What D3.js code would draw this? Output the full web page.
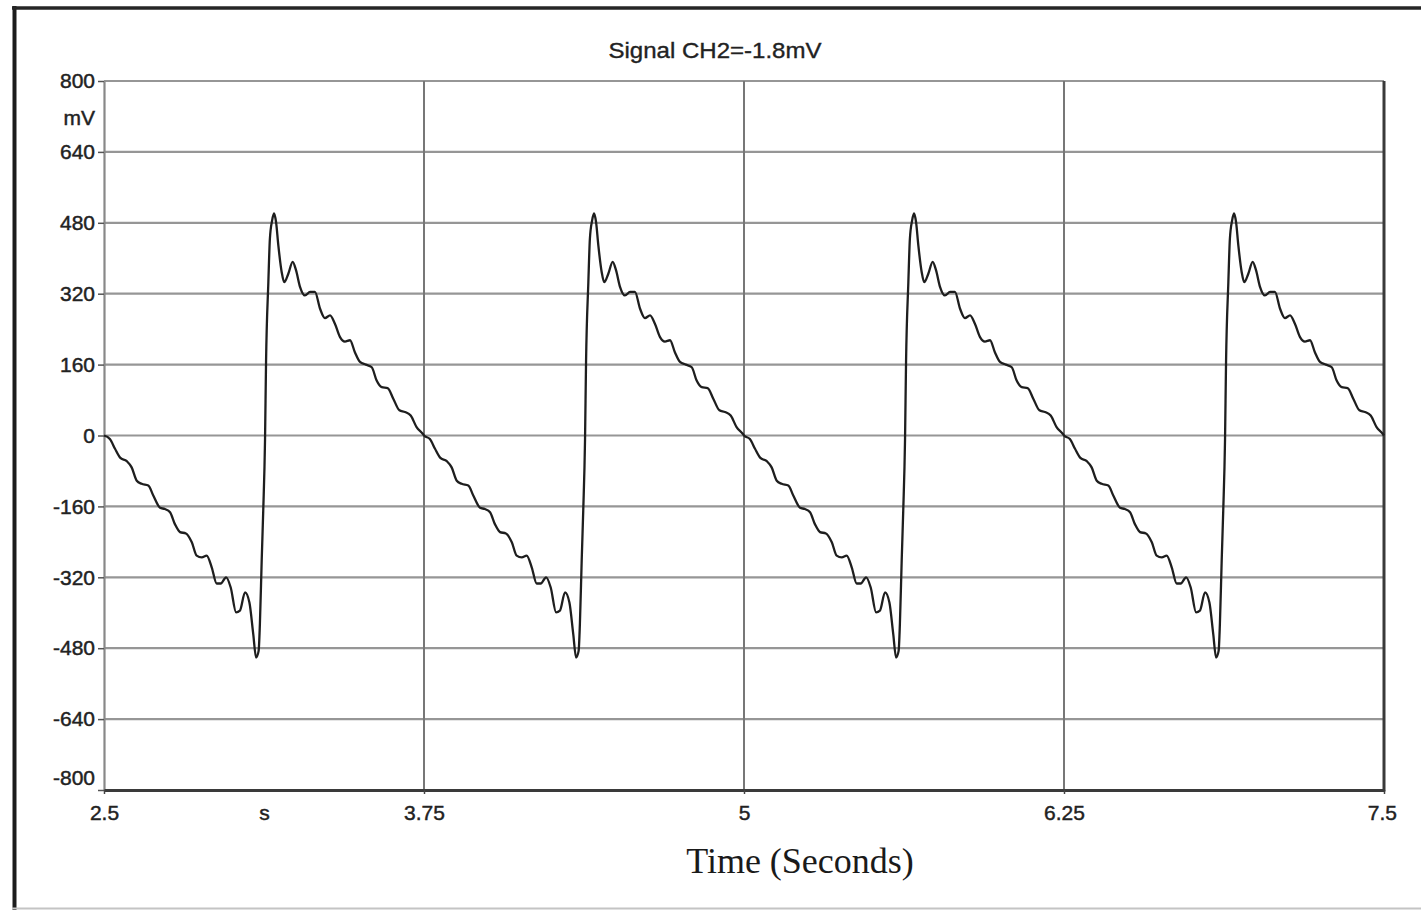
<!DOCTYPE html>
<html>
<head>
<meta charset="utf-8">
<script src="https://cdn.jsdelivr.net/npm/d3@7"></script>
<style>
    html, body { margin: 0; padding: 0; background: #fff; }
    svg { display: block; }
    .axis .tick text, .unit { font-family: "Liberation Sans", Arial, sans-serif; font-size: 21px; fill: #222; stroke: #222; stroke-width: 0.45px; }
</style>
</head>
<body>
<svg id="svg" width="1421" height="910"></svg>
<script>

// tick values / labels
var yTicks = [800, 640, 480, 320, 160, 0, -160, -320, -480, -640, -800];
var yTickLabels = ['800', '640', '480', '320', '160', '0', '-160', '-320', '-480', '-640', '-800'];
var xTicks = [2.5, 3.125, 3.75, 5, 6.25, 7.5];
var xTickLabels = ['2.5', 's', '3.75', '5', '6.25', '7.5'];
var xGrid = [3.75, 5, 6.25];

// signal (seconds, mV)
var timeSec = [
    2.500, 2.523, 2.543, 2.563, 2.589, 2.608, 2.628, 2.647, 2.673, 2.693, 2.719, 2.738, 2.758, 2.777, 2.797, 2.820, 2.843, 2.862, 2.882, 2.901,
    2.921, 2.940, 2.956, 2.977, 2.995, 3.016, 3.031, 3.051, 3.068, 3.083, 3.094, 3.104, 3.109, 3.116, 3.122, 3.129, 3.133, 3.142, 3.148, 3.157,
    3.164, 3.172, 3.181, 3.194, 3.204, 3.220, 3.237, 3.250, 3.266, 3.285, 3.305, 3.324, 3.344, 3.363, 3.383, 3.402, 3.422, 3.441, 3.461, 3.480,
    3.500, 3.523, 3.546, 3.565, 3.585, 3.608, 3.630, 3.654, 3.676, 3.698, 3.721, 3.745,

    3.750, 3.773, 3.793, 3.813, 3.839, 3.858, 3.878, 3.897, 3.923, 3.943, 3.969, 3.988, 4.008, 4.027, 4.047, 4.070, 4.093, 4.112, 4.132, 4.151,
    4.171, 4.190, 4.206, 4.227, 4.245, 4.266, 4.281, 4.301, 4.318, 4.333, 4.344, 4.354, 4.359, 4.366, 4.372, 4.379, 4.383, 4.392, 4.398, 4.407,
    4.414, 4.422, 4.431, 4.444, 4.454, 4.470, 4.487, 4.500, 4.516, 4.535, 4.555, 4.574, 4.594, 4.613, 4.633, 4.652, 4.672, 4.691, 4.711, 4.730,
    4.750, 4.773, 4.796, 4.815, 4.835, 4.858, 4.880, 4.904, 4.926, 4.948, 4.971, 4.995,

    5.000, 5.023, 5.043, 5.063, 5.089, 5.108, 5.128, 5.147, 5.173, 5.193, 5.219, 5.238, 5.258, 5.277, 5.297, 5.320, 5.343, 5.362, 5.382, 5.401,
    5.421, 5.440, 5.456, 5.477, 5.495, 5.516, 5.531, 5.551, 5.568, 5.583, 5.594, 5.604, 5.609, 5.616, 5.622, 5.629, 5.633, 5.642, 5.648, 5.657,
    5.664, 5.672, 5.681, 5.694, 5.704, 5.720, 5.737, 5.750, 5.766, 5.785, 5.805, 5.824, 5.844, 5.863, 5.883, 5.902, 5.922, 5.941, 5.961, 5.980,
    6.000, 6.023, 6.046, 6.065, 6.085, 6.108, 6.130, 6.154, 6.176, 6.198, 6.221, 6.245,

    6.250, 6.273, 6.293, 6.313, 6.339, 6.358, 6.378, 6.397, 6.423, 6.443, 6.469, 6.488, 6.508, 6.527, 6.547, 6.570, 6.593, 6.612, 6.632, 6.651,
    6.671, 6.690, 6.706, 6.727, 6.745, 6.766, 6.781, 6.801, 6.818, 6.833, 6.844, 6.854, 6.859, 6.866, 6.872, 6.879, 6.883, 6.892, 6.898, 6.907,
    6.914, 6.922, 6.931, 6.944, 6.954, 6.970, 6.987, 7.000, 7.016, 7.035, 7.055, 7.074, 7.094, 7.113, 7.133, 7.152, 7.172, 7.191, 7.211, 7.230,
    7.250, 7.273, 7.296, 7.315, 7.335, 7.358, 7.380, 7.404, 7.426, 7.448, 7.471, 7.495,
    7.500
];

var signalMv = [
    0, -8, -30, -50, -58, -72, -102, -109, -113, -136, -163, -166, -173, -200, -218, -221, -241, -271, -275, -271,
    -298, -334, -334, -320, -343, -399, -395, -354, -377, -448, -501, -486, -425, -282, -170, -10, 166, 346, 444, 486,
    501, 482, 429, 369, 346, 365, 392, 373, 335, 316, 324, 324, 286, 265, 271, 252, 222, 212, 215, 188,
    166, 160, 154, 124, 109, 107, 83, 57, 53, 45, 19, 4,

    0, -8, -30, -50, -58, -72, -102, -109, -113, -136, -163, -166, -173, -200, -218, -221, -241, -271, -275, -271,
    -298, -334, -334, -320, -343, -399, -395, -354, -377, -448, -501, -486, -425, -282, -170, -10, 166, 346, 444, 486,
    501, 482, 429, 369, 346, 365, 392, 373, 335, 316, 324, 324, 286, 265, 271, 252, 222, 212, 215, 188,
    166, 160, 154, 124, 109, 107, 83, 57, 53, 45, 19, 4,

    0, -8, -30, -50, -58, -72, -102, -109, -113, -136, -163, -166, -173, -200, -218, -221, -241, -271, -275, -271,
    -298, -334, -334, -320, -343, -399, -395, -354, -377, -448, -501, -486, -425, -282, -170, -10, 166, 346, 444, 486,
    501, 482, 429, 369, 346, 365, 392, 373, 335, 316, 324, 324, 286, 265, 271, 252, 222, 212, 215, 188,
    166, 160, 154, 124, 109, 107, 83, 57, 53, 45, 19, 4,

    0, -8, -30, -50, -58, -72, -102, -109, -113, -136, -163, -166, -173, -200, -218, -221, -241, -271, -275, -271,
    -298, -334, -334, -320, -343, -399, -395, -354, -377, -448, -501, -486, -425, -282, -170, -10, 166, 346, 444, 486,
    501, 482, 429, 369, 346, 365, 392, 373, 335, 316, 324, 324, 286, 265, 271, 252, 222, 212, 215, 188,
    166, 160, 154, 124, 109, 107, 83, 57, 53, 45, 19, 4,
    0
];

var plot = {left: 104, right: 1384, top: 81, bottom: 790};

var $svg = d3.select('#svg');

var x = d3.scaleLinear().domain([2.5, 7.5]).range([plot.left, plot.right]),
    y = d3.scaleLinear().domain([-800, 800]).range([plot.bottom, plot.top]);

// page frame
$svg.append('rect')
    .attr('width', 1421)
    .attr('height', 910)
    .attr('fill', '#fff');

$svg.append('line')
    .attr('x1', 14.5).attr('x2', 14.5)
    .attr('y1', 6).attr('y2', 910)
    .attr('stroke', '#1c1c1c')
    .attr('stroke-width', 4);

$svg.append('line')
    .attr('x1', 12).attr('x2', 1421)
    .attr('y1', 8).attr('y2', 8)
    .attr('stroke', '#262626')
    .attr('stroke-width', 3.5);

$svg.append('line')
    .attr('x1', 12).attr('x2', 1421)
    .attr('y1', 908.5).attr('y2', 908.5)
    .attr('stroke', '#c4c4c4')
    .attr('stroke-width', 2);

// grid
var $grid = $svg.append('g').classed('grid', true);

$grid.selectAll('line.h')
    .data(yTicks)
    .enter()
    .append('line')
    .attr('class', 'h')
    .attr('x1', plot.left)
    .attr('x2', plot.right)
    .attr('y1', function (d) { return y(d); })
    .attr('y2', function (d) { return y(d); })
    .attr('stroke', '#969696')
    .attr('stroke-width', 2.2);

$grid.selectAll('line.v')
    .data(xGrid)
    .enter()
    .append('line')
    .attr('class', 'v')
    .attr('x1', function (d) { return x(d); })
    .attr('x2', function (d) { return x(d); })
    .attr('y1', plot.top)
    .attr('y2', plot.bottom)
    .attr('stroke', '#777')
    .attr('stroke-width', 2);

// axes
var $yAxis = $svg.append('g')
    .attr('class', 'axis y-axis')
    .attr('transform', 'translate(' + plot.left + ',0)')
    .call(d3.axisLeft(y)
        .tickValues(yTicks)
        .tickFormat(function (d, i) { return yTickLabels[i]; })
        .tickSize(6)
        .tickPadding(3)
        .tickSizeOuter(0));

$yAxis.select('.domain').attr('stroke', '#888').attr('stroke-width', 2.2);
$yAxis.selectAll('.tick line').attr('stroke', '#555').attr('stroke-width', 1.5);
$yAxis.selectAll('.tick text')
    .filter(function (d) { return d === -800; })
    .attr('dy', '-0.28em');

$yAxis.append('text')
    .attr('class', 'unit')
    .attr('x', -9)
    .attr('y', 118)
    .attr('dy', '0.32em')
    .attr('text-anchor', 'end')
    .text('mV');

var $xAxis = $svg.append('g')
    .attr('class', 'axis x-axis')
    .attr('transform', 'translate(0,' + plot.bottom + ')')
    .call(d3.axisBottom(x)
        .tickValues(xTicks)
        .tickFormat(function (d, i) { return xTickLabels[i]; })
        .tickSize(4)
        .tickPadding(11)
        .tickSizeOuter(0));

$xAxis.select('.domain').attr('stroke', '#3a3a3a').attr('stroke-width', 3);
$xAxis.selectAll('.tick line').attr('stroke', '#444').attr('stroke-width', 1.5)
    .filter(function (d) { return d === 3.125; })
    .remove();
$xAxis.selectAll('.tick text')
    .filter(function (d) { return d === 7.5; })
    .attr('dx', '-0.1em');

// right frame of the plot
$svg.append('line')
    .attr('x1', plot.right).attr('x2', plot.right)
    .attr('y1', plot.top).attr('y2', plot.bottom + 1.5)
    .attr('stroke', '#3a3a3a')
    .attr('stroke-width', 3);

// signal
var points = timeSec.map(function (t, i) { return [t, signalMv[i]]; });

var line = d3.line()
    .x(function (d) { return x(d[0]); })
    .y(function (d) { return y(d[1]); })
    .curve(d3.curveMonotoneX);

$svg.append('path')
    .datum(points)
    .attr('d', line)
    .attr('fill', 'none')
    .attr('stroke', '#1e1e1e')
    .attr('stroke-width', 2.3)
    .attr('stroke-linejoin', 'round');

// titles
$svg.append('text')
    .attr('x', 715)
    .attr('y', 58)
    .attr('text-anchor', 'middle')
    .attr('textLength', 213)
    .attr('lengthAdjust', 'spacingAndGlyphs')
    .style('font-family', '"Liberation Sans", Arial, sans-serif')
    .style('font-size', '22px')
    .attr('fill', '#222')
    .attr('stroke', '#222')
    .attr('stroke-width', 0.35)
    .text('Signal CH2=-1.8mV');

$svg.append('text')
    .attr('x', 800)
    .attr('y', 873)
    .attr('text-anchor', 'middle')
    .style('font-family', '"Liberation Serif", "Times New Roman", serif')
    .style('font-size', '36px')
    .attr('fill', '#1a1a1a')
    .text('Time (Seconds)');

</script>
</body>
</html>
